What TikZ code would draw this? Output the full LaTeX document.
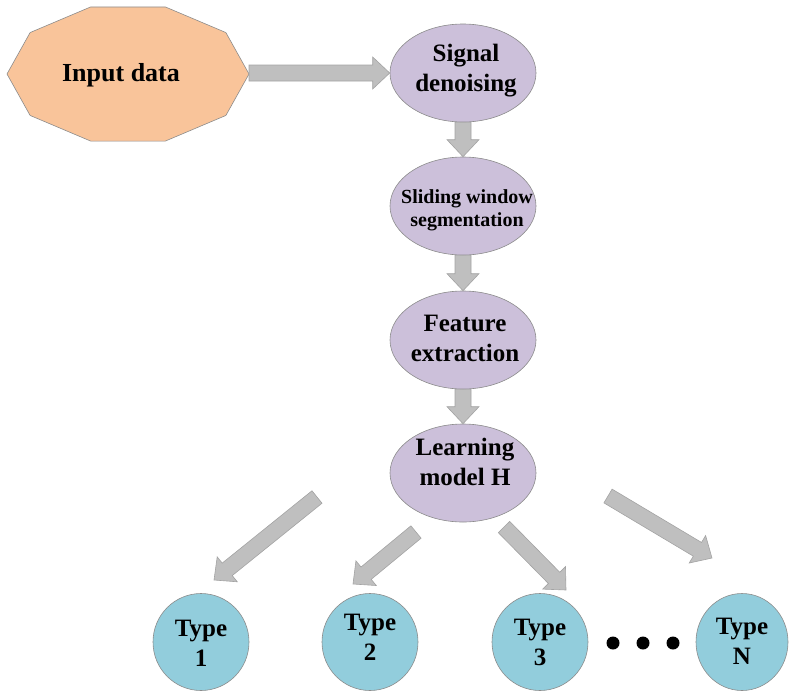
\documentclass[tikz,border=0pt]{standalone}
\usepackage{fontspec}
\setmainfont{Liberation Serif}
\usetikzlibrary{calc,shapes.geometric}

\definecolor{peach}{HTML}{F9C49A}
\definecolor{lav}{HTML}{CCC0DA}
\definecolor{teal}{HTML}{92CDDC}
\definecolor{arrowgrey}{HTML}{BFBFBF}
\definecolor{edgegrey}{HTML}{8C8C8C}

% grey block arrow from #1 (tail centre) to #2 (tip)
\newcommand\blockarrow[2]{%
  \coordinate (ba-b) at ($(#2)!17pt!(#1)$);
  \draw[fatarrow] ($(#1)!8pt!90:(#2)$) -- ($(ba-b)!8pt!90:(#2)$)
    -- ($(ba-b)!16pt!90:(#2)$) -- (#2) -- ($(ba-b)!16pt!-90:(#2)$)
    -- ($(ba-b)!8pt!-90:(#2)$) -- ($(#1)!8pt!-90:(#2)$) -- cycle;}

\tikzset{
  fatarrow/.style={fill=arrowgrey, draw=edgegrey!80, line width=0.6pt, line join=miter},
  lbl/.style={font=\fontsize{25}{30}\selectfont\bfseries, align=center, inner sep=0pt},
  small lbl/.style={font=\fontsize{20}{23}\selectfont\bfseries, align=center, inner sep=0pt},
  stepell/.style={ellipse, draw=edgegrey, line width=0.6pt, fill=lav,
    minimum width=146pt, minimum height=98pt, inner sep=0pt},
  typeell/.style={ellipse, draw=edgegrey, line width=0.6pt, fill=teal,
    minimum width=96pt, minimum height=97pt, inner sep=0pt},
  dotnode/.style={circle, fill=black, minimum size=13pt, inner sep=0pt},
}

\begin{document}
\begin{tikzpicture}[x=1pt,y=-1pt]
\useasboundingbox (0,0) rectangle (789,691);

% input decagon
\begin{scope}[shift={(128,74)}]
  \draw[fill=peach, draw=edgegrey, line width=0.6pt]
    (0:121pt and 70.5pt) -- (36:121pt and 70.5pt) -- (72:121pt and 70.5pt)
    -- (108:121pt and 70.5pt) -- (144:121pt and 70.5pt) -- (180:121pt and 70.5pt)
    -- (216:121pt and 70.5pt) -- (252:121pt and 70.5pt) -- (288:121pt and 70.5pt)
    -- (324:121pt and 70.5pt) -- cycle;
\end{scope}
\node[lbl, font=\fontsize{26}{30}\selectfont\bfseries] (in) at (121,75) {Input data};
\coordinate (in-tip) at (249,73);

% processing chain
\node[stepell] (sd) at (463,73) {};
\node[stepell] (sw) at (463,206) {};
\node[stepell] (fe) at (463,340) {};
\node[stepell] (lm) at (463,473) {};

\node[lbl] (sd-t) at (466,71) {Signal\\denoising};
\node[small lbl] (sw-t) at (467,210) {Sliding window\\segmentation};
\node[lbl] (fe-t) at (465,338) {Feature\\extraction};
\node[lbl] (lm-t) at (465,462) {Learning\\model H};

% output classes
\node[typeell] (t1) at (201,642) {};
\node[typeell] (t2) at (370,642) {};
\node[typeell] (t3) at (540,642) {};
\node[typeell, minimum width=92pt] (tn) at (742,642) {};

\node[lbl] (t1-t) at (201,643) {Type\\1};
\node[lbl] (t2-t) at (370,637) {Type\\2};
\node[lbl] (t3-t) at (540,642) {Type\\3};
\node[lbl] (tn-t) at (742,641) {Type\\N};

\node[dotnode] (d1) at (613,643) {};
\node[dotnode] (d2) at (643,643) {};
\node[dotnode] (d3) at (673,643) {};

% arrows
\blockarrow{in-tip}{sd.west}
\blockarrow{sd.south}{sw.north}
\blockarrow{sw.south}{fe.north}
\blockarrow{fe.south}{lm.north}

\coordinate (a1s) at (317,497); \coordinate (a1e) at (214,580);
\coordinate (a2s) at (416,532); \coordinate (a2e) at (353,584);
\coordinate (a3s) at (504,527); \coordinate (a3e) at (566,590);
\coordinate (a4s) at (608,496); \coordinate (a4e) at (712,558);
\blockarrow{a1s}{a1e}
\blockarrow{a2s}{a2e}
\blockarrow{a3s}{a3e}
\blockarrow{a4s}{a4e}
\end{tikzpicture}
\end{document}
